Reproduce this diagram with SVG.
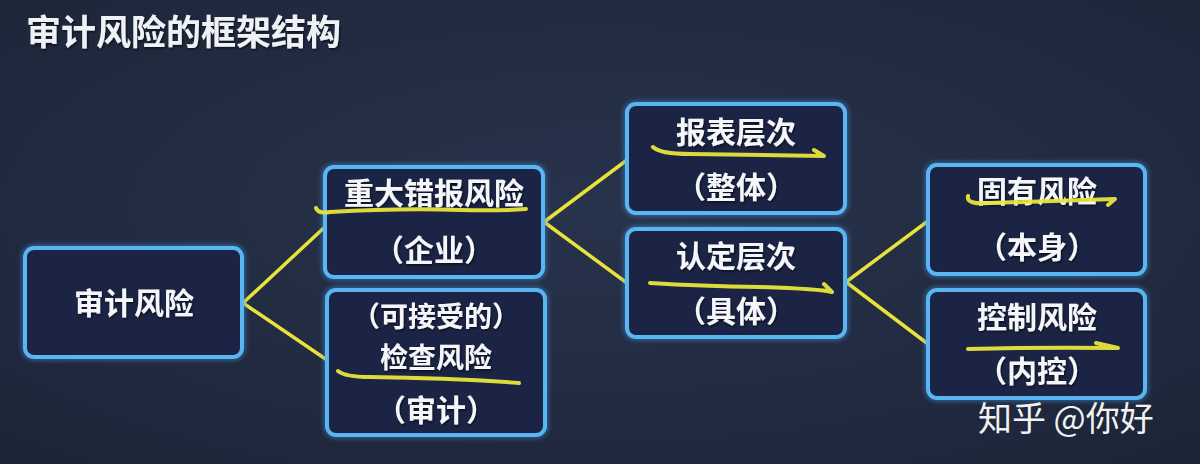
<svg xmlns="http://www.w3.org/2000/svg" width="1200" height="464" viewBox="0 0 1200 464">
<defs>
<radialGradient id="bg" cx="0.5" cy="0.45" r="0.75">
<stop offset="0" stop-color="#28334c"/>
<stop offset="1" stop-color="#1c2437"/>
</radialGradient>
<filter id="glow" x="-10%" y="-10%" width="120%" height="120%">
<feGaussianBlur stdDeviation="2"/>
</filter>
<filter id="ts" x="-5%" y="-20%" width="110%" height="140%">
<feDropShadow dx="1" dy="1.5" stdDeviation="1" flood-color="#000" flood-opacity="0.6"/>
</filter>
</defs>
<style>
.box{fill:#1b2444;stroke:#5ab6f2;stroke-width:4}
.halo{fill:none;stroke:#3f8fd8;stroke-width:8;opacity:0.45}
.t{font-family:"Noto Sans CJK SC","Noto Sans",sans-serif;font-weight:bold;font-size:30px;fill:#f4f6fa;text-anchor:middle;filter:url(#ts)}
.s{font-size:28px}
.con{fill:none;stroke:#e9e23a;stroke-width:3.5;stroke-linecap:round;stroke-linejoin:round}
.mark{fill:none;stroke:#e8e53c;stroke-width:4;stroke-linecap:round;stroke-linejoin:round;opacity:0.95}
</style>
<rect width="1200" height="464" fill="url(#bg)"/>
<text x="26" y="45" font-family="Noto Sans CJK SC, sans-serif" font-weight="bold" font-size="35" fill="#eef1f6" filter="url(#ts)">审计风险的框架结构</text>

<g id="connectors">
<polyline class="con" points="327,225 243,303 327,360"/>
<polyline class="con" points="627,160 544,222 627,283"/>
<polyline class="con" points="928,221 846,282 928,344"/>
</g>

<g id="node-audit-risk">
<rect class="halo" x="25" y="248" width="217" height="109" rx="9" filter="url(#glow)"/>
<rect class="box" x="25" y="248" width="217" height="109" rx="9"/>
<text class="t" x="134" y="314">审计风险</text>
</g>

<g id="node-material-misstatement">
<rect class="halo" x="325" y="167" width="218" height="110" rx="9" filter="url(#glow)"/>
<rect class="box" x="325" y="167" width="218" height="110" rx="9"/>
<text class="t" x="434" y="204">重大错报风险</text>
<text class="t" x="434" y="261">（企业）</text>
</g>

<g id="node-detection">
<rect class="halo" x="327" y="290" width="218" height="145" rx="9" filter="url(#glow)"/>
<rect class="box" x="327" y="290" width="218" height="145" rx="9"/>
<text class="t s" x="436" y="327">（可接受的）</text>
<text class="t s" x="436" y="368">检查风险</text>
<text class="t" x="436" y="421">（审计）</text>
</g>

<g id="node-statement-level">
<rect class="halo" x="627" y="104" width="218" height="109" rx="9" filter="url(#glow)"/>
<rect class="box" x="627" y="104" width="218" height="109" rx="9"/>
<text class="t" x="736" y="143">报表层次</text>
<text class="t" x="736" y="198">（整体）</text>
</g>

<g id="node-assertion-level">
<rect class="halo" x="627" y="229" width="218" height="108" rx="9" filter="url(#glow)"/>
<rect class="box" x="627" y="229" width="218" height="108" rx="9"/>
<text class="t" x="736" y="267">认定层次</text>
<text class="t" x="736" y="322">（具体）</text>
</g>

<g id="node-inherent">
<rect class="halo" x="928" y="165" width="217" height="109" rx="9" filter="url(#glow)"/>
<rect class="box" x="928" y="165" width="217" height="109" rx="9"/>
<text class="t" x="1037" y="202">固有风险</text>
<text class="t" x="1037" y="258">（本身）</text>
</g>

<g id="node-control">
<rect class="halo" x="928" y="290" width="217" height="108" rx="9" filter="url(#glow)"/>
<rect class="box" x="928" y="290" width="217" height="108" rx="9"/>
<text class="t" x="1037" y="328">控制风险</text>
<text class="t" x="1037" y="382">（内控）</text>
</g>

<g id="annotations">
<path class="mark" d="M316,208 Q318,214 330,212 Q400,208 460,210 Q500,211 526,209"/>
<path class="mark" d="M338,371 Q345,377 370,377 Q450,378 519,383"/>
<path class="mark" d="M653,147 Q660,154 690,154 Q760,155 824,156 L814,150"/>
<path class="mark" d="M650,283 Q700,286 760,287 Q820,289 832,292 L824,284"/>
<path class="mark" d="M968,196 Q966,205 990,203 Q1060,201 1115,199 L1108,205"/>
<path class="mark" d="M968,349 Q1040,347 1118,348 L1096,343"/>
</g>

<text x="978" y="431" font-family="Noto Sans CJK SC, sans-serif" font-size="34" fill="#f2f2f2">知乎 @你好</text>
</svg>
